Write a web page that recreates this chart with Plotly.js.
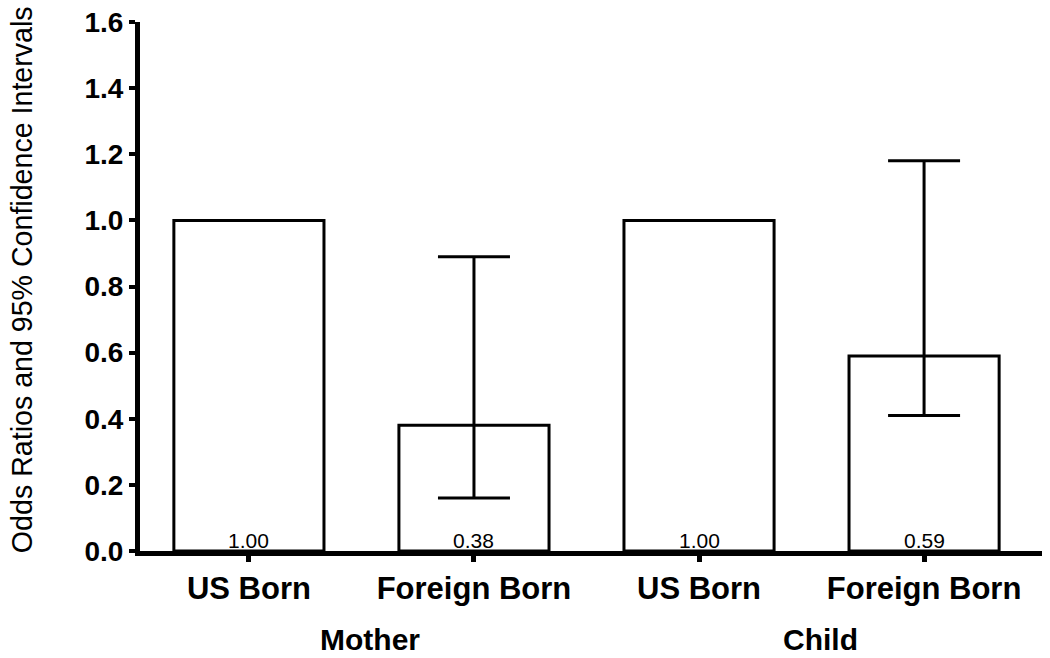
<!DOCTYPE html>
<html>
<head>
<meta charset="utf-8">
<script src="https://cdn.plot.ly/plotly-3.0.1.min.js"></script>
<style>
  html, body { margin: 0; padding: 0; background: #fff; }
  #chart { width: 1050px; height: 658px; }
</style>
</head>
<body>
<div id="chart"></div>
<script>
const categories = ["US Born", "Foreign Born", "US Born", "Foreign Born"];
const oddsRatios = [1.00, 0.38, 1.00, 0.59];
const ciLower = [null, 0.16, null, 0.41];
const ciUpper = [null, 0.89, null, 1.18];
const valueLabels = ["1.00", "0.38", "1.00", "0.59"];
const groupLabels = ["Mother", "Child"];
const groupCenters = [0.5, 2.5];
const yTicks = [0, 0.2, 0.4, 0.6, 0.8, 1.0, 1.2, 1.4, 1.6];
const yTitle = "Odds Ratios and 95% Confidence Intervals";

const xPos = [0, 1, 2, 3];
const errIdx = xPos.filter(i => ciUpper[i] != null);

const FONT = "Arial, 'Liberation Sans', sans-serif";

const barTrace = {
  type: "bar",
  x: xPos,
  y: oddsRatios,
  width: 0.667,
  marker: { color: "#ffffff", line: { color: "#000000", width: 3 } },
  hoverinfo: "skip",
  showlegend: false
};

const errTrace = {
  type: "scatter",
  mode: "markers",
  x: errIdx,
  y: errIdx.map(i => oddsRatios[i]),
  marker: { size: 0.1, color: "rgba(0,0,0,0)" },
  error_y: {
    type: "data",
    symmetric: false,
    array: errIdx.map(i => ciUpper[i] - oddsRatios[i]),
    arrayminus: errIdx.map(i => oddsRatios[i] - ciLower[i]),
    color: "#000",
    thickness: 3,
    width: 36
  },
  hoverinfo: "skip",
  showlegend: false
};

const valueAnnotations = xPos.map(i => ({
  text: valueLabels[i],
  x: i,
  xref: "x",
  y: 0,
  yref: "y",
  yanchor: "bottom",
  xanchor: "center",
  yshift: -3,
  showarrow: false,
  font: { family: FONT, size: 21, color: "#000" }
}));

const groupAnnotations = groupLabels.map((g, i) => ({
  text: "<b>" + g + "</b>",
  x: groupCenters[i],
  xref: "x",
  xshift: 9,
  y: -0.168,
  yref: "paper",
  yanchor: "middle",
  xanchor: "center",
  showarrow: false,
  font: { family: FONT, size: 30, color: "#000" }
}));

const titleAnnotation = {
  text: yTitle,
  textangle: -90,
  x: 0,
  xref: "paper",
  xshift: -118,
  xanchor: "center",
  y: 0.512,
  yref: "paper",
  yanchor: "middle",
  showarrow: false,
  font: { family: FONT, size: 28.6, color: "#000" }
};

const layout = {
  width: 1050,
  height: 658,
  margin: { l: 140, r: 8, t: 22, b: 107 },
  paper_bgcolor: "#fff",
  plot_bgcolor: "#fff",
  font: { family: FONT, color: "#000" },
  xaxis: {
    range: [-0.484, 3.524],
    tickmode: "array",
    tickvals: xPos,
    ticktext: categories.map(c => "<b>" + c + "</b>"),
    ticks: "outside",
    ticklen: 6,
    tickwidth: 5,
    tickcolor: "#000",
    showline: true,
    linecolor: "#000",
    linewidth: 5,
    showgrid: false,
    zeroline: false,
    tickfont: { family: FONT, size: 31, color: "#000" },
    fixedrange: true
  },
  yaxis: {
    range: [0, 1.6],
    tickmode: "array",
    tickvals: yTicks,
    ticktext: yTicks.map(v => "<b>" + v.toFixed(1) + "</b>"),
    ticks: "outside",
    ticklen: 6,
    tickwidth: 4,
    tickcolor: "#000",
    showline: true,
    linecolor: "#000",
    linewidth: 5,
    showgrid: false,
    zeroline: false,
    tickfont: { family: FONT, size: 28, color: "#000" },
    automargin: false,
    fixedrange: true
  },
  annotations: [titleAnnotation].concat(valueAnnotations, groupAnnotations)
};

Plotly.newPlot("chart", [barTrace, errTrace], layout, { displayModeBar: false, staticPlot: true });
</script>
</body>
</html>
